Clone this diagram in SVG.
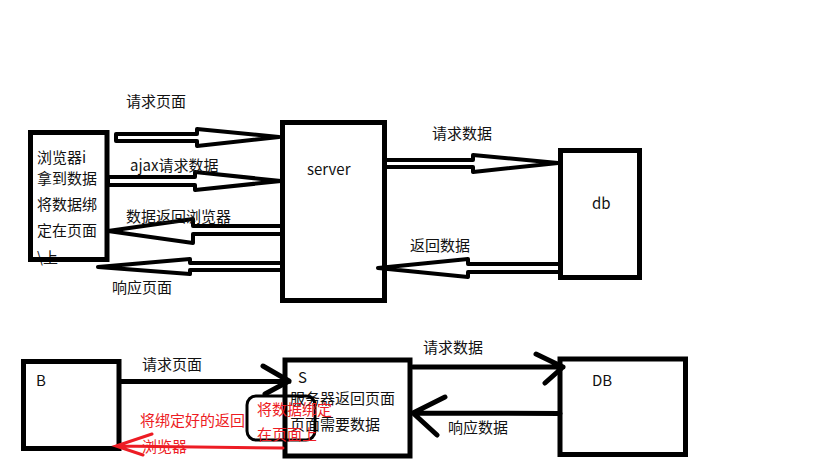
<svg xmlns="http://www.w3.org/2000/svg" width="819" height="460" viewBox="0 0 819 460">
<style>
text{font-family:"Noto Sans CJK SC","Microsoft YaHei",sans-serif;font-size:15px;fill:#111}
.red{fill:#ed1c24}
.box{fill:none;stroke:#000;stroke-width:5}
.hollow{fill:#fff;stroke:#000;stroke-width:4;stroke-linejoin:round}
.line{fill:none;stroke:#000;stroke-width:5;stroke-linecap:round;stroke-linejoin:round}
.rline{fill:none;stroke:#ed1c24;stroke-width:3;stroke-linecap:round}
</style>
<rect width="819" height="460" fill="#fff"/>

<g id="browser">
<text x="37" y="163">浏览器i</text>
<text x="37" y="184">拿到数据</text>
<text x="37" y="210">将数据绑</text>
<text x="37" y="236">定在页面</text>
<text x="37" y="263">\上</text>
<rect class="box" x="30.5" y="132.5" width="76.5" height="127"/>
</g>
<g id="server">
<rect class="box" x="282.5" y="122.5" width="102" height="178"/>
<text x="307" y="175">server</text>
</g>
<g id="db">
<rect class="box" x="560.5" y="150.5" width="79" height="127"/>
<text x="592" y="209">db</text>
</g>

<g id="B">
<rect class="box" x="23.5" y="361.5" width="95.5" height="87"/>
<text x="36" y="386">B</text>
</g>
<g id="S">
<rect class="box" x="285" y="360" width="125" height="96"/>
<text x="298" y="383">S</text>
<text x="290" y="404">服务器返回页面</text>
<text x="290" y="430">页面需要数据</text>
</g>
<g id="DB">
<rect class="box" x="560" y="359" width="125.5" height="95.5"/>
<text x="592" y="386">DB</text>
</g>

<g id="connectors">
<polygon class="hollow" points="116,134 197,134 197,129 279,137 197,146 197,141 116,141"/>
<polygon class="hollow" points="108,177 195,177 195,172 281,181 195,190 195,185 108,185"/>
<polygon class="hollow" points="282,226 193,226 193,219 108,231 193,243 193,234 282,234"/>
<polygon class="hollow" points="282,263 190,263 190,259 98,267 190,274 190,270 282,270"/>
<polygon class="hollow" points="385,160 473,160 473,155 558,163 473,172 473,167 385,167"/>
<polygon class="hollow" points="560,264 468,264 468,259 378,268 468,277 468,272 560,272"/>

<path class="line" d="M121,381.5 L289,381.5 M263,366 L289,381 L265,394"/>
<path class="line" d="M413,367 L563,367 M536,354 L563,367 L545,383"/>
<path class="line" d="M560,413.5 L413,413 M445,397 L413,413 L437,435"/>

<path class="rline" d="M283,448 L116,446 M152,434 L116,446 L143,455"/>

<text x="142" y="370">请求页面</text>
<text x="126" y="107">请求页面</text>
<text x="130" y="171">ajax请求数据</text>
<text x="126" y="222">数据返回浏览器</text>
<text x="112" y="293">响应页面</text>
<text x="432" y="139">请求数据</text>
<text x="410" y="251">返回数据</text>
<text x="423" y="353">请求数据</text>
<text x="448" y="433">响应数据</text>
</g>

<g id="note">
<rect x="247" y="396" width="68" height="44" rx="9" fill="none" stroke="#000" stroke-width="3"/>
<text class="red" x="257" y="415">将数据绑定</text>
<text class="red" x="257" y="440">在页面上</text>
<text class="red" x="140" y="426">将绑定好的返回</text>
<text class="red" x="142" y="452">浏览器</text>
</g>
</svg>
